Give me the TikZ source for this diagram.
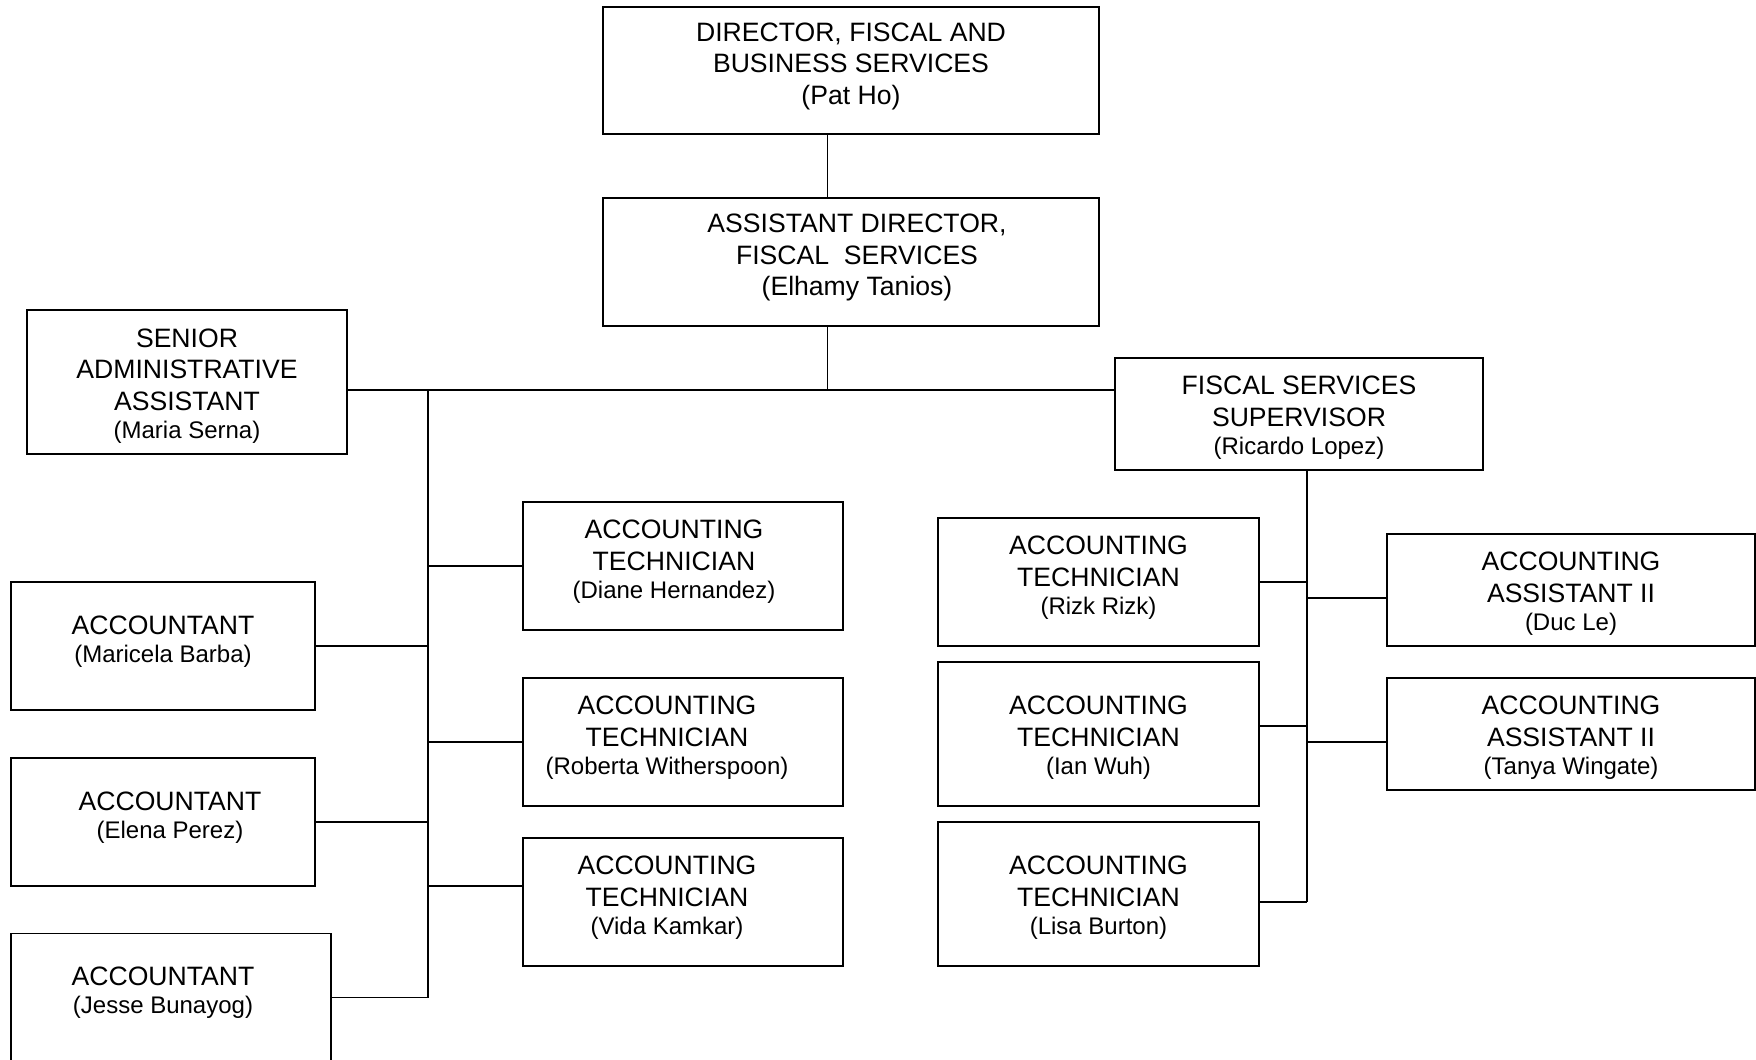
\documentclass[tikz,border=0pt]{standalone}
\usepackage{fontspec}
\setmainfont{Liberation Sans}
\usepackage{tikz}

\newcommand{\who}[1]{\\[-1.75pt]{\fontsize{12}{15.75}\selectfont #1}}
\newcommand{\topgap}{\rule{0pt}{17.5pt}}

\begin{document}
\begin{tikzpicture}[x=0.5pt, y=-0.5pt,
  box/.style={draw, line width=0.8pt, align=center, inner sep=0pt,
    font=\fontsize{13.3}{15.75}\selectfont,
    execute at end node={\rule[-7pt]{0pt}{0pt}}},
  nudge/.style={execute at begin node={\hspace*{#1}}},
  link/.style={line width=0.8pt}]
\useasboundingbox (0,0) rectangle (1756,1060);
%\draw[black, thick] (0,0) rectangle (1756,1060);
\node[box, minimum width=248pt, minimum height=63.5pt] (dir) at (851,70.5) {DIRECTOR, FISCAL AND\\BUSINESS SERVICES\\(Pat Ho)};
\node[box, nudge=6pt, minimum width=248pt, minimum height=64pt] (asd) at (851,262) {ASSISTANT DIRECTOR,\\FISCAL \ SERVICES\\(Elhamy Tanios)};
\node[box, minimum width=160pt, minimum height=72pt] (sen) at (187,382) {\topgap SENIOR\\ADMINISTRATIVE\\ASSISTANT\who{(Maria Serna)}};
\node[box, minimum width=184pt, minimum height=56pt] (fss) at (1299,414) {\topgap FISCAL SERVICES\\SUPERVISOR\who{(Ricardo Lopez)}};
\node[box, minimum width=152pt, minimum height=64pt] (acc1) at (163,646) {ACCOUNTANT\who{(Maricela Barba)}};
\node[box, nudge=7pt, minimum width=152pt, minimum height=64pt] (acc2) at (163,822) {ACCOUNTANT\who{(Elena Perez)}};
\node[box, nudge=-8pt, minimum width=160pt, minimum height=64pt] (acc3) at (171,997.5) {ACCOUNTANT\who{(Jesse Bunayog)}};
\node[box, nudge=-9pt, minimum width=160pt, minimum height=64pt] (tec1) at (683,566) {ACCOUNTING\\TECHNICIAN\who{(Diane Hernandez)}};
\node[box, nudge=-16pt, minimum width=160pt, minimum height=64pt] (tec2) at (683,742) {ACCOUNTING\\TECHNICIAN\who{(Roberta Witherspoon)}};
\node[box, nudge=-16pt, minimum width=160pt, minimum height=64pt] (tec3) at (683,902) {ACCOUNTING\\TECHNICIAN\who{(Vida Kamkar)}};
\node[box, minimum width=160.5pt, minimum height=64pt] (tec4) at (1098.5,582) {ACCOUNTING\\TECHNICIAN\who{(Rizk Rizk)}};
\node[box, minimum width=160.5pt, minimum height=72pt] (tec5) at (1098.5,734) {\topgap ACCOUNTING\\TECHNICIAN\who{(Ian Wuh)}};
\node[box, minimum width=160.5pt, minimum height=72pt] (tec6) at (1098.5,894) {\topgap ACCOUNTING\\TECHNICIAN\who{(Lisa Burton)}};
\node[box, minimum width=184pt, minimum height=56pt] (aa1) at (1571,590) {\topgap ACCOUNTING\\ASSISTANT II\who{(Duc Le)}};
\node[box, minimum width=184pt, minimum height=56pt] (aa2) at (1571,734) {\topgap ACCOUNTING\\ASSISTANT II\who{(Tanya Wingate)}};
\coordinate (mainbus) at (827.5,390);
\coordinate (lbus) at (428,390);
\coordinate (rbus) at (1307,470);
\draw[link] (dir.south -| mainbus) -- (asd.north -| mainbus);
\draw[link] (asd.south -| mainbus) -- (mainbus);
\draw[link] (sen.east |- mainbus) -- (fss.west |- mainbus);
\draw[link] (lbus) -- (lbus |- acc3.east);
\draw[link] (acc1.east) -- (acc1.east -| lbus);
\draw[link] (acc2.east) -- (acc2.east -| lbus);
\draw[link] (acc3.east) -- (acc3.east -| lbus);
\draw[link] (tec1.west) -- (tec1.west -| lbus);
\draw[link] (tec2.west) -- (tec2.west -| lbus);
\draw[link] ([yshift=8pt]tec3.west) -- ([yshift=8pt]tec3.west -| lbus);
\draw[link] (fss.south -| rbus) -- ([yshift=-4pt]tec6.east -| rbus);
\draw[link] (tec4.east) -- (tec4.east -| rbus);
\draw[link] ([yshift=4pt]tec5.east) -- ([yshift=4pt]tec5.east -| rbus);
\draw[link] ([yshift=-4pt]tec6.east) -- ([yshift=-4pt]tec6.east -| rbus);
\draw[link] ([yshift=-4pt]aa1.west) -- ([yshift=-4pt]aa1.west -| rbus);
\draw[link] ([yshift=-4pt]aa2.west) -- ([yshift=-4pt]aa2.west -| rbus);
\end{tikzpicture}
\end{document}
